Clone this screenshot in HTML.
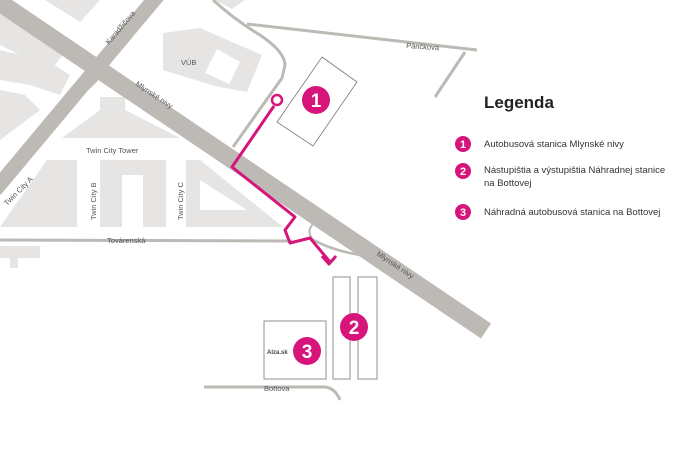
<!DOCTYPE html>
<html><head><meta charset="utf-8"><style>
html,body{margin:0;padding:0;background:#fff;}
svg{display:block;font-family:"Liberation Sans",sans-serif;}
</style></head><body>
<svg width="700" height="467" viewBox="0 0 700 467" xmlns="http://www.w3.org/2000/svg">
<rect width="700" height="467" fill="#fff"/>
<g fill="#e6e5e3">
<polygon points="0,10 30,20 70,45 55,65 20,55 0,45"/>
<polygon points="0,50 50,62 70,75 60,95 30,85 0,80"/>
<polygon points="0,90 25,95 40,110 0,140"/>
<polygon points="45,0 100,0 80,22"/>
<polygon points="215,0 245,0 232,9"/>
<polygon points="163,33 200,28 262,55 247,92 215,86 163,70"/>
<polygon points="100,97 125,97 125,110 180,138 62,138 100,110"/>
<polygon points="0,227 47,160 77,160 77,227"/>
<polygon points="100,160 166,160 166,227 143,227 143,175 122,175 122,227 100,227"/>
<polygon points="186,160 200,160 283,227 186,227"/>
<polygon points="0,246 40,246 40,258 18,258 18,268 10,268 10,258 0,258"/>
</g>
<polygon points="217,49 240,62 229,84 205,73" fill="#fff"/>
<polygon points="200,180 200,210 247,210" fill="#fff"/>
<g stroke="#bdbab5" fill="none" stroke-linecap="butt">
<line x1="-10" y1="-4" x2="486" y2="331" stroke-width="18"/>
<line x1="158" y1="-5" x2="-5" y2="190" stroke-width="15"/>
<path d="M213,0 Q235,20 260,35 Q285,52 285,65 L282,78 L233,147" stroke-width="3"/>
<line x1="247" y1="24" x2="477" y2="50" stroke-width="3"/>
<line x1="465" y1="52" x2="435" y2="97" stroke-width="3"/>
<line x1="0" y1="240" x2="292" y2="241" stroke-width="3"/>
<path d="M310,238 Q330,250 360,255 Q375,258 385,265" stroke-width="2.5"/>
<path d="M317,220 Q305,230 312,238" stroke-width="2"/>
<path d="M204,387 L325,387 Q335,388 340,400" stroke-width="3"/>
<path d="M100,77 Q85,95 50,118" stroke-width="1.5"/>
<path d="M92,80 Q100,78 115,80" stroke-width="1.5"/>
</g>
<g fill="#555" font-size="7.5">
<text transform="translate(109,45) rotate(-50)">Karadžičova</text>
<text transform="translate(135,85) rotate(34)">Mlynské nivy</text>
<text transform="translate(376,255) rotate(34)">Mlynské nivy</text>
<text x="406" y="48" transform="rotate(4 406 48)">Páričkova</text>
<text x="181" y="65">VÚB</text>
<text x="86" y="153">Twin City Tower</text>
<text transform="translate(7,206) rotate(-45)">Twin City A</text>
<text transform="translate(96,220) rotate(-90)">Twin City B</text>
<text transform="translate(183,220) rotate(-90)">Twin City C</text>
<text x="107" y="243">Továrenská</text>
<text x="264" y="391">Bottova</text>
</g>
<g fill="none" stroke="#777" stroke-width="0.8">
<polygon points="322,57 357,82 313,146 277,122"/>
<rect x="333" y="277" width="17" height="102"/>
<rect x="358" y="277" width="19" height="102"/>
<rect x="264" y="321" width="62" height="58"/>
</g>
<text x="267" y="354" font-size="6" font-weight="bold" fill="#444">Alza.sk</text>
<g stroke="#d6147a" stroke-width="3" fill="none" stroke-linejoin="round">
<polyline points="274,106 232,167 295,217 285,230 290,243 310,238 330,262"/>
<polyline points="322,256 329,264 336,256"/>
</g>
<circle cx="277" cy="100" r="5" fill="#fff" stroke="#d6147a" stroke-width="2.5"/>
<g fill="#d6147a">
<circle cx="316" cy="100" r="14"/>
<circle cx="354" cy="327" r="14"/>
<circle cx="307" cy="351" r="14"/>
<circle cx="463" cy="144" r="8"/>
<circle cx="463" cy="171" r="8"/>
<circle cx="463" cy="212" r="8"/>
</g>
<g fill="#fff" font-weight="bold" text-anchor="middle">
<text x="316" y="107" font-size="19">1</text>
<text x="354" y="334" font-size="19">2</text>
<text x="307" y="358" font-size="19">3</text>
<text x="463" y="148" font-size="11">1</text>
<text x="463" y="175" font-size="11">2</text>
<text x="463" y="216" font-size="11">3</text>
</g>
<text x="484" y="108" font-size="17" font-weight="bold" fill="#222">Legenda</text>
<g fill="#333" font-size="9.5">
<text x="484" y="147">Autobusová stanica Mlynské nivy</text>
<text x="484" y="173">Nástupištia a výstupištia Náhradnej stanice</text>
<text x="484" y="186">na Bottovej</text>
<text x="484" y="215">Náhradná autobusová stanica na Bottovej</text>
</g>
</svg>
</body></html>
